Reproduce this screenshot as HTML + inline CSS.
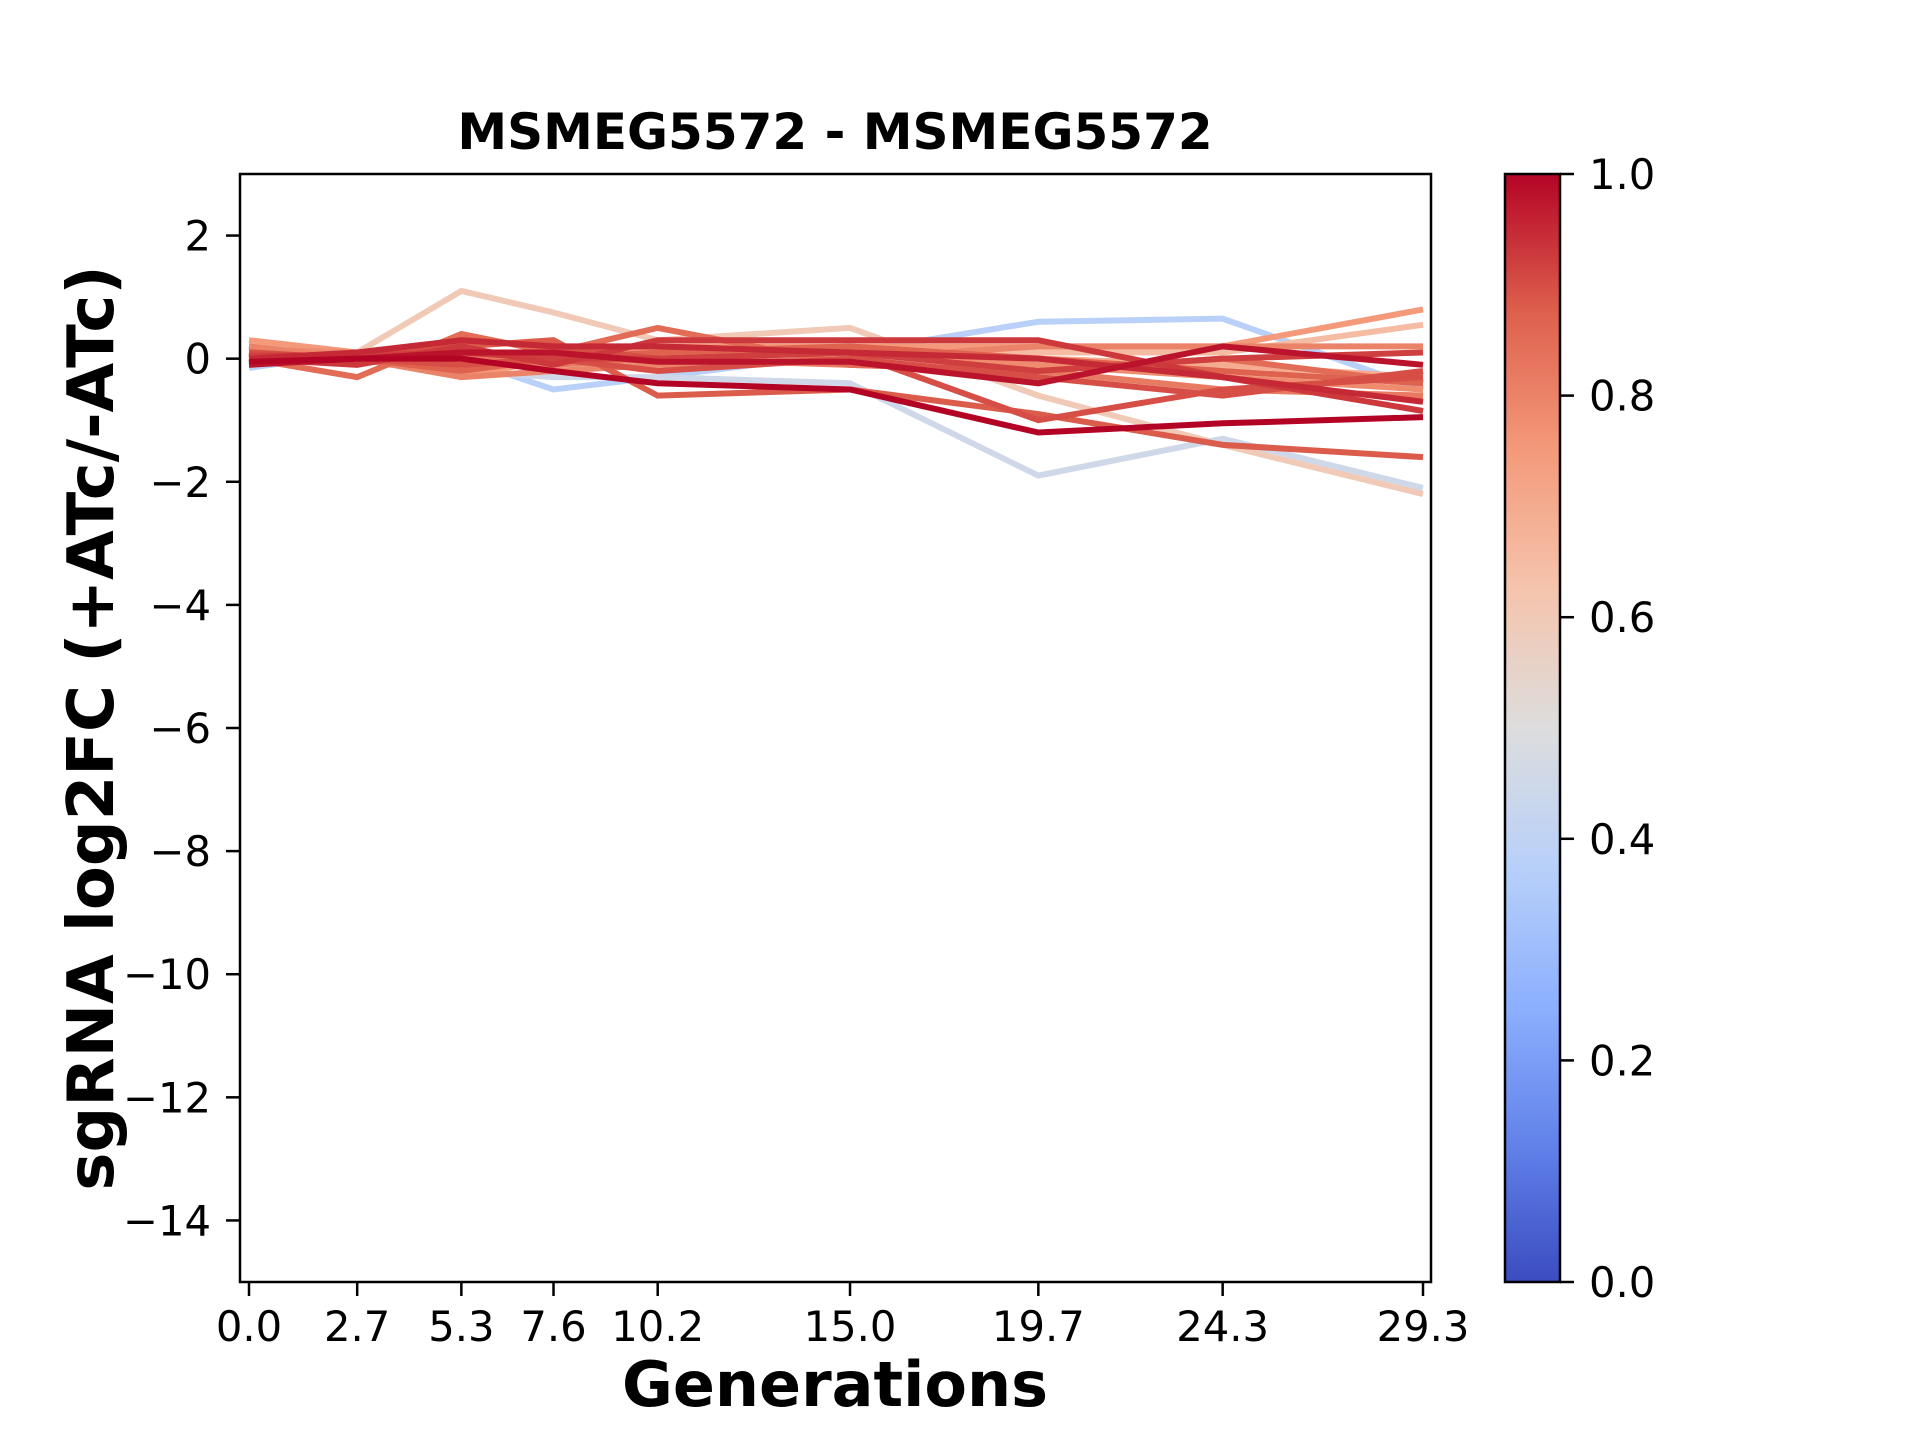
<!DOCTYPE html>
<html><head><meta charset="utf-8"><style>
body{margin:0;background:#fff}
text{font-family:"DejaVu Sans","Liberation Sans",sans-serif}
</style></head><body>
<svg id="chart" width="1920" height="1440" viewBox="0 0 1920 1440" xmlns="http://www.w3.org/2000/svg">
<defs><linearGradient id="cw" x1="0" y1="1" x2="0" y2="0">
<stop offset="0" stop-color="#3b4cc0"/><stop offset="0.125" stop-color="#6282ea"/><stop offset="0.25" stop-color="#8db0fe"/><stop offset="0.375" stop-color="#b8d0f9"/><stop offset="0.5" stop-color="#dddddd"/><stop offset="0.625" stop-color="#f5c4ad"/><stop offset="0.75" stop-color="#f49a7b"/><stop offset="0.875" stop-color="#de604d"/><stop offset="1" stop-color="#b40426"/>
</linearGradient></defs>
<rect x="0" y="0" width="1920" height="1440" fill="#fff"/>
<g id="lines"></g>
<rect x="240" y="174" width="1191" height="1108" fill="none" stroke="#000" stroke-width="2.5"/>
<g id="axes"></g>
<text x="835" y="149" text-anchor="middle" font-size="50" font-weight="bold">MSMEG5572 - MSMEG5572</text>
<text transform="translate(113,728) rotate(-90)" text-anchor="middle" font-size="64" font-weight="bold">sgRNA log2FC (+ATc/-ATc)</text>
<text x="835" y="1406" text-anchor="middle" font-size="62" font-weight="bold">Generations</text>
<rect x="1505" y="174" width="55" height="1108" fill="url(#cw)" stroke="#000" stroke-width="2.5"/>
<g id="cbar"></g>
</svg>
<script>
const xGen = [0, 2.7, 5.3, 7.6, 10.2, 15.0, 19.7, 24.3, 29.3];
const xTickLabels = ["0.0","2.7","5.3","7.6","10.2","15.0","19.7","24.3","29.3"];
const yTicks = [2, 0, -2, -4, -6, -8, -10, -12, -14];
const cbTicks = [0.0, 0.2, 0.4, 0.6, 0.8, 1.0];
const seriesColor = [0.6, 0.38, 0.45, 0.75, 0.65, 0.7, 0.78, 0.8, 0.82, 0.85, 0.87, 0.88, 0.9, 0.9, 0.92, 0.93, 0.95, 0.98, 1.0];
const s1 = [0.2, 0.1, 1.1, 0.75, 0.3, 0.5, -0.6, -1.4, -2.2];
const s2 = [-0.15, 0.1, 0.0, -0.5, -0.3, 0.1, 0.6, 0.65, -0.5];
const s3 = [-0.1, 0.0, -0.2, -0.3, -0.3, -0.4, -1.9, -1.3, -2.1];
const s4 = [0.3, 0.1, -0.3, 0.0, 0.2, 0.2, 0.2, 0.2, 0.8];
const s5 = [0.1, 0.0, -0.1, 0.0, 0.1, 0.1, 0.1, 0.1, 0.55];
const s6 = [0.2, 0.0, -0.1, 0.1, 0.0, 0.2, 0.0, -0.1, -0.3];
const s7 = [0.15, 0.1, 0.0, 0.1, 0.2, 0.1, -0.1, -0.3, -0.5];
const s8 = [0.2, 0.0, -0.3, -0.2, -0.1, 0.0, 0.2, 0.2, 0.2];
const s9 = [0.0, 0.1, 0.0, -0.1, 0.0, -0.1, -0.2, -0.5, -0.6];
const s10 = [0.0, -0.3, 0.4, 0.1, 0.5, -0.1, -0.2, 0.0, -0.4];
const s11 = [0.1, 0.0, -0.2, 0.0, 0.1, 0.2, 0.0, -0.2, -0.4];
const s12 = [0.1, 0.0, 0.2, 0.3, -0.6, -0.5, -0.9, -1.4, -1.6];
const s13 = [0.1, 0.0, 0.3, 0.2, 0.0, 0.1, -1.0, -0.5, -0.3];
const s14 = [0.0, 0.0, -0.1, 0.0, -0.2, 0.0, -0.3, -0.6, -0.2];
const s15 = [0.05, 0.05, 0.1, 0.0, 0.0, 0.1, -0.2, 0.0, 0.1];
const s16 = [0.0, -0.1, 0.2, -0.1, 0.3, 0.3, 0.3, -0.3, -0.85];
const s17 = [0.0, 0.1, 0.3, 0.2, 0.2, 0.1, 0.0, -0.3, -0.7];
const s18 = [-0.1, 0.0, 0.1, 0.1, -0.05, -0.05, -0.4, 0.2, -0.1];
const s19 = [-0.05, 0.0, 0.0, -0.2, -0.4, -0.5, -1.2, -1.05, -0.95];
const allSeries = [s1,s2,s3,s4,s5,s6,s7,s8,s9,s10,s11,s12,s13,s14,s15,s16,s17,s18,s19];

const NS = "http://www.w3.org/2000/svg";
const L=240,R=1431,T=174,B=1282;
function xs(v){ return 249 + (v-0)*(1423-249)/29.3; }
function ys(v){ return T + (3 - v)*(B-T)/18; }
function cbY(v){ return B - v*(B-T); }
const stops=[[59,76,192],[98,130,234],[141,176,254],[184,208,249],[221,221,221],[245,196,173],[244,154,123],[222,96,77],[180,4,38]];
function cw(t){ const p=t*8, i=Math.min(7,Math.floor(p)), f=p-i;
  const c=stops[i].map((a,k)=>Math.round(a+(stops[i+1][k]-a)*f)); return `rgb(${c})`; }

const gl=document.getElementById('lines');
allSeries.forEach((s,i)=>{
  const p=document.createElementNS(NS,'polyline');
  p.setAttribute('points', s.map((v,j)=>xs(xGen[j])+','+ys(v)).join(' '));
  p.setAttribute('fill','none'); p.setAttribute('stroke',cw(seriesColor[i]));
  p.setAttribute('stroke-width','6'); p.setAttribute('stroke-linejoin','miter');
  
  
  gl.appendChild(p);
});
const ga=document.getElementById('axes');
function add(tag,attrs,txt){ const e=document.createElementNS(NS,tag); for(const k in attrs)e.setAttribute(k,attrs[k]); if(txt!==undefined)e.textContent=txt; ga.appendChild(e); return e; }
xGen.forEach((v,i)=>{
  const t=add('line',{x1:xs(v),x2:xs(v),y1:B,y2:B+14,stroke:'#000','stroke-width':2.5});
  
  
  const l=add('text',{x:xs(v),y:1341,'text-anchor':'middle','font-size':41.7},xTickLabels[i]);
  
  
});
yTicks.forEach(v=>{
  const t=add('line',{x1:L-14,x2:L,y1:ys(v),y2:ys(v),stroke:'#000','stroke-width':2.5});
  
  
  const l=add('text',{x:211,y:ys(v)+15,'text-anchor':'end','font-size':41.7},(v<0?'\u2212'+(-v):String(v)));
  
  
});
cbTicks.forEach(v=>{
  const t=add('line',{x1:1560,x2:1574,y1:cbY(v),y2:cbY(v),stroke:'#000','stroke-width':2.5});
  
  
  const l=add('text',{x:1589,y:cbY(v)+15,'font-size':41.7},v.toFixed(1));
  
  
});
</script>
</body></html>
